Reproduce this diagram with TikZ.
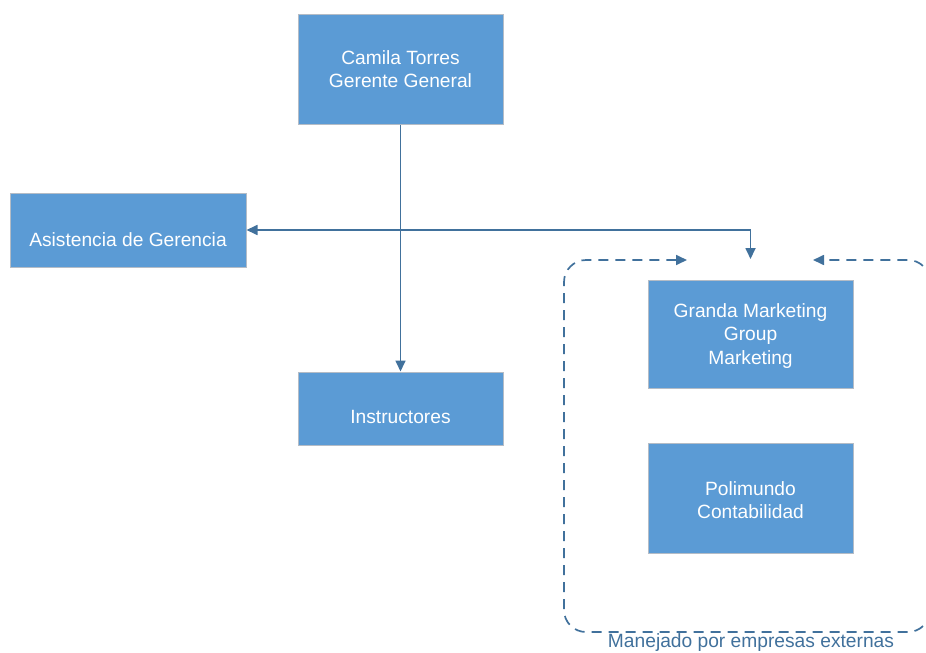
\documentclass[tikz,border=0pt]{standalone}
\usepackage{fontspec}
\setmainfont{Liberation Sans}
\usetikzlibrary{arrows.meta}
\definecolor{boxfill}{HTML}{5B9BD5}
\definecolor{boxedge}{HTML}{B4BCC6}
\definecolor{linec}{HTML}{41719C}
\begin{document}
\begin{tikzpicture}[x=1pt,y=-1pt,
  orgbox/.style={draw=boxedge,line width=1pt,fill=boxfill,text=white,
    minimum width=205pt,align=center,inner sep=0pt,
    font=\fontsize{19.2}{23.5}\selectfont},
  lowtext/.style={text depth=10pt,text height=24pt},
  conn/.style={draw=linec,line width=1.7pt},
  tip/.style={-{Triangle[length=11pt,width=10pt]}},
  dashc/.style={draw=linec,line width=1.7pt,dash pattern=on 10pt off 7pt}]
\useasboundingbox (0,0) rectangle (926,653);
\node[orgbox,minimum height=110pt] (camila) at (400.5,69) {Camila Torres\\Gerente General};
\node[orgbox,minimum width=236pt,minimum height=74pt] (asis) at (128,230) {};
\node[text=white,font=\fontsize{19.2}{23.5}\selectfont,inner sep=0pt] (asist) at (128,240) {Asistencia de Gerencia};
\node[orgbox,minimum height=73pt] (instr) at (400.5,408.5) {};
\node[text=white,font=\fontsize{19.2}{23.5}\selectfont,inner sep=0pt] (instrt) at (400.5,417) {Instructores};
\node[orgbox,minimum height=108pt] (granda) at (750.5,334) {};
\node[text=white,font=\fontsize{19.2}{23.5}\selectfont,align=center,inner sep=0pt] (grandat) at (750.5,336) {Granda Marketing\\Group\\Marketing};
\node[orgbox,minimum height=110pt] (poli) at (750.5,498) {};
\node[text=white,font=\fontsize{19.2}{23.5}\selectfont,align=center,inner sep=0pt] (polit) at (750.5,500) {Polimundo\\Contabilidad};
\coordinate (j) at (750.5,230);
\coordinate (grp) at (750.5,259);
\coordinate (la) at (687,260);
\coordinate (ra) at (813,260);
\draw[conn,tip] (camila) -- (instr);
\draw[conn,{Triangle[length=11pt,width=10pt]}-{Triangle[length=11pt,width=10pt]}] (asis.east) -- (j) -- (grp);
\draw[dashc,rounded corners=22pt,{Triangle[length=11pt,width=10pt]}-{Triangle[length=11pt,width=10pt]}]
  (la) -- (564,260) -- (564,632) -- (930,632) -- (930,260) -- (ra);
\node[text=linec,font=\fontsize{19.2}{20}\selectfont,anchor=north,inner sep=0pt] (lbl) at (751,633) {Manejado por empresas externas};
\end{tikzpicture}
\end{document}
